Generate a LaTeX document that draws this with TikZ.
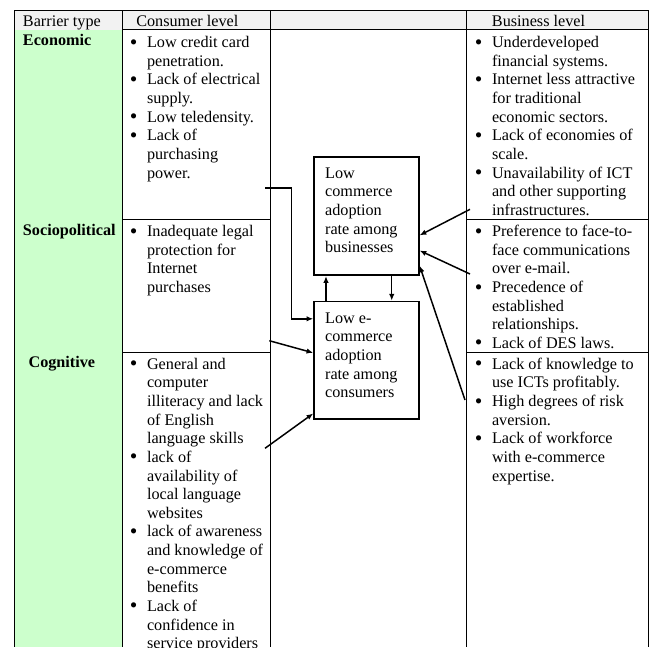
\documentclass[tikz,border=0pt]{standalone}
\usepackage{fontspec}
\setmainfont{Liberation Serif}
\usetikzlibrary{arrows.meta}
\definecolor{barriergreen}{HTML}{CCFFCC}
\definecolor{headgray}{HTML}{F2F2F2}
\newcommand{\bul}{\raisebox{-1.1pt}[0pt][0pt]{\fontsize{16pt}{13.8pt}\selectfont\textbullet}}
\newenvironment{barlist}{\begin{tabular}[t]{@{}l@{\hspace{7.1pt}}l@{}}}{\end{tabular}}
\newenvironment{boxlines}{\begin{tabular}[t]{@{}p{61.2pt}@{}}}{\end{tabular}}

\begin{document}
\begin{tikzpicture}[x=0.7407pt, y=-0.7407pt,
        font=\fontsize{12pt}{13.8pt}\selectfont,
        cell/.style={inner sep=0pt, anchor=base west},
        box/.style={draw, line width=1.2pt, anchor=north west, inner xsep=8.15pt, inner ysep=0pt},
        arr/.style={-{Latex[length=5pt,width=4pt]}, line width=1.1pt},
        rule/.style={line width=0.6pt}]
    \useasboundingbox (0,0) rectangle (654,647);
    \clip (0,0) rectangle (654,647);

    % table
    \fill[headgray] (14,10) rectangle (648.3,29.5);
    \fill[barriergreen] (14,29.5) rectangle (122.7,647);
    \draw[rule] (14,10) -- (648.3,10);
    \draw[line width=1.1pt] (122.7,29.5) -- (466.7,29.5);
    \draw[rule] (466.7,29.5) -- (648.3,29.5);
    \draw[rule] (122.7,219) -- (270,219) (466.7,219) -- (648.3,219);
    \draw[rule] (122.7,352.7) -- (270,352.7) (466.7,352.7) -- (648.3,352.7);
    \draw[rule] (14,10) -- (14,647) (122.7,10) -- (122.7,647) (270,10) -- (270,647)
        (466.7,10) -- (466.7,647) (648.3,10) -- (648.3,647);

    \node[cell] (typeHead) at (22.7,26) {Barrier type};
    \node[cell] (consHead) at (136,26) {Consumer level};
    \node[cell] (busHead) at (491.7,26) {Business level};

    \node[cell] (ecoType) at (22.7,45) {\textbf{Economic}};
    \node[cell] (socType) at (22.7,235) {\textbf{Sociopolitical}};
    \node[cell] (cogType) at (28.3,367.7) {\textbf{Cognitive}};

    \node[cell] (ecoCons) at (129.6,47.7) {\begin{barlist}
        \bul & Low credit card\\
             & penetration.\\
        \bul & Lack of electrical\\
             & supply.\\
        \bul & Low teledensity.\\
        \bul & Lack of\\
             & purchasing\\
             & power.
    \end{barlist}};
    \node[cell] (socCons) at (129.6,236.7) {\begin{barlist}
        \bul & Inadequate legal\\
             & protection for\\
             & Internet\\
             & purchases
    \end{barlist}};
    \node[cell] (cogCons) at (129.6,369.3) {\begin{barlist}
        \bul & General and\\
             & computer\\
             & illiteracy and lack\\
             & of English\\
             & language skills\\
        \bul & lack of\\
             & availability of\\
             & local language\\
             & websites\\
        \bul & lack of awareness\\
             & and knowledge of\\
             & e-commerce\\
             & benefits\\
        \bul & Lack of\\
             & confidence in\\
             & service providers
    \end{barlist}};

    \node[cell] (ecoBus) at (474.6,47.7) {\begin{barlist}
        \bul & Underdeveloped\\
             & financial systems.\\
        \bul & Internet less attractive\\
             & for traditional\\
             & economic sectors.\\
        \bul & Lack of economies of\\
             & scale.\\
        \bul & Unavailability of ICT\\
             & and other supporting\\
             & infrastructures.
    \end{barlist}};
    \node[cell] (socBus) at (474.6,236.7) {\begin{barlist}
        \bul & Preference to face-to-\\
             & face communications\\
             & over e-mail.\\
        \bul & Precedence of\\
             & established\\
             & relationships.\\
        \bul & Lack of DES laws.
    \end{barlist}};
    \node[cell] (cogBus) at (474.6,369.3) {\begin{barlist}
        \bul & Lack of knowledge to\\
             & use ICTs profitably.\\
        \bul & High degrees of risk\\
             & aversion.\\
        \bul & Lack of workforce\\
             & with e-commerce\\
             & expertise.
    \end{barlist}};

    % adoption boxes
    \node[box, text height=15.8pt, text depth=71.9pt] (busBox) at (313.3,156)
        {\begin{boxlines}Low\\commerce\\adoption\\rate among\\businesses\end{boxlines}};
    \node[box, text height=16pt, text depth=71.1pt] (consBox) at (313.3,300.7)
        {\begin{boxlines}Low e-\\commerce\\adoption\\rate among\\consumers\end{boxlines}};

    \coordinate (ecoConsOut) at (265,188);
    \coordinate (elbowTurn) at (291.7,188);
    \coordinate (socConsOut) at (269.3,340.7);
    \coordinate (cogConsOut) at (265,448.3);
    \coordinate (ecoBusOut) at (470,209.3);
    \coordinate (socBusOut) at (470,274);
    \coordinate (cogBusOut) at (465,400);

    \draw[arr] (ecoConsOut) -- (elbowTurn) |- (consBox.142);
    \draw[arr] (socConsOut) -- (consBox.172);
    \draw[arr] (cogConsOut) -- (consBox.225);
    \draw[arr] ([xshift=9.4pt]consBox.north west) -- ([xshift=9.4pt]busBox.south west);
    \draw[arr] ([xshift=58.1pt]busBox.south west) -- ([xshift=58.1pt]consBox.north west);
    \draw[arr] (ecoBusOut) -- (busBox.-20);
    \draw[arr] (socBusOut) -- (busBox.-33);
    \draw[arr] (cogBusOut) -- (busBox.-43);
\end{tikzpicture}
\end{document}
